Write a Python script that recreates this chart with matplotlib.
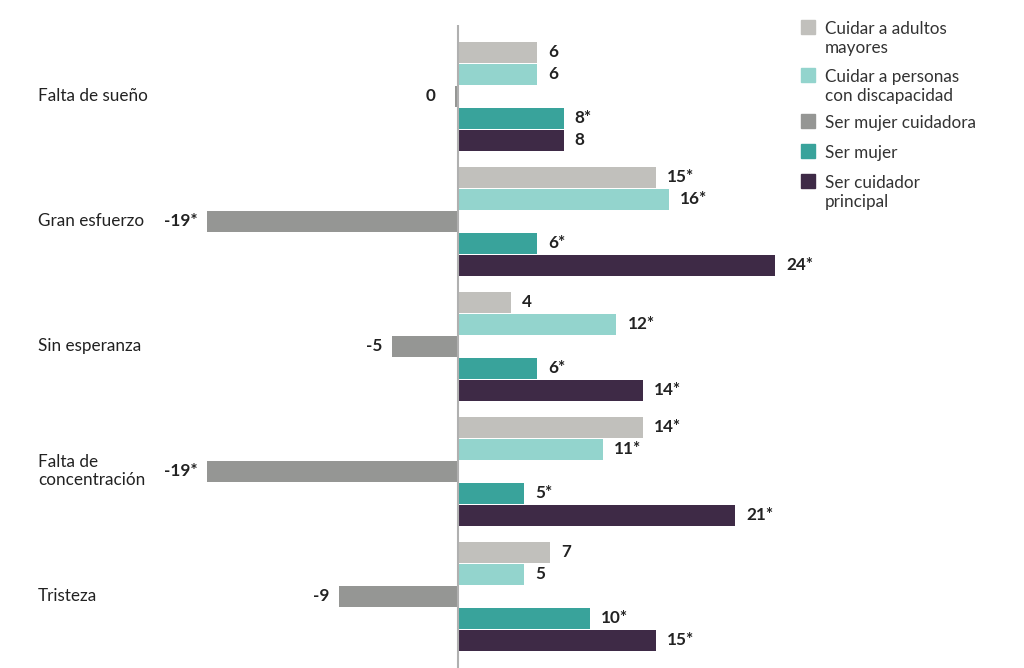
import matplotlib
matplotlib.use("Agg")
import matplotlib.pyplot as plt
from matplotlib.patches import Rectangle

plt.rcParams['font.family'] = ['Lato', 'DejaVu Sans']

categories = ["Falta de sueño", "Gran esfuerzo", "Sin esperanza",
              "Falta de\nconcentración", "Tristeza"]
series_names = ["Cuidar a adultos\nmayores", "Cuidar a personas\ncon discapacidad",
                "Ser mujer cuidadora", "Ser mujer", "Ser cuidador\nprincipal"]
adultos = [6, 15, 4, 14, 7]
adultos_sig = [False, True, False, True, False]
discapacidad = [6, 16, 12, 11, 5]
discapacidad_sig = [False, True, True, True, False]
mujer_cuidadora = [-0.2, -19, -5, -19, -9]
mujer_cuidadora_sig = [False, True, False, True, False]
mujer = [8, 6, 6, 5, 10]
mujer_sig = [True, True, True, True, True]
principal = [8, 24, 14, 21, 15]
principal_sig = [False, True, True, True, True]

values = [adultos, discapacidad, mujer_cuidadora, mujer, principal]
sigs = [adultos_sig, discapacidad_sig, mujer_cuidadora_sig, mujer_sig, principal_sig]
colors = ["#c1c0bc", "#93d4cd", "#959694", "#39a39b", "#3e2a46"]

W, H = 1024, 668
fig = plt.figure(figsize=(W / 100, H / 100), dpi=100)
ax = fig.add_axes([0, 0, 1, (H - 25) / H])
scale = 13.2
zero_px = 458
ax.set_xlim(-zero_px / scale, (W - zero_px) / scale)
ax.set_ylim(4.576, -0.568)
for s in ax.spines.values():
    s.set_visible(False)
ax.set_xticks([])
ax.set_yticks([])

pitch = 0.176
height = 0.168
for j, (vals, sg, col) in enumerate(zip(values, sigs, colors)):
    ys = [i + (j - 2) * pitch for i in range(len(categories))]
    ax.barh(ys, vals, height=height, color=col, zorder=2)
    for y, v, s in zip(ys, vals, sg):
        lab = f"{round(v)}" + ("*" if s else "")
        if v >= 0:
            ax.annotate(lab, (v, y), xytext=(8, 0), textcoords="offset points",
                        ha="left", va="center", fontsize=12.3, fontweight="bold",
                        color="#222222")
        else:
            off = -7 if v < -1 else -14
            ax.annotate(lab, (v, y), xytext=(off, 0), textcoords="offset points",
                        ha="right", va="center", fontsize=12.3, fontweight="bold",
                        color="#222222")

ax.axvline(0, color="#b0b0b0", lw=1.5, zorder=3)

for i, c in enumerate(categories):
    ax.text(38 / W, i, c, transform=ax.get_yaxis_transform(), ha="left",
            va="center", fontsize=12.3, color="#222222", linespacing=1.2)

# legend
centers = [27, 75, 121, 151, 181]
for name, col, c in zip(series_names, colors, centers):
    fig.patches.append(Rectangle((801 / W, 1 - (c + 7) / H), 14 / W, 14 / H,
                                 transform=fig.transFigure, color=col))
    fig.text(825 / W, 1 - (c - 6) / H, name, ha="left", va="top",
             fontsize=12.3, color="#333333", linespacing=1.2)

fig.savefig("out.png", dpi=100, facecolor="white")
